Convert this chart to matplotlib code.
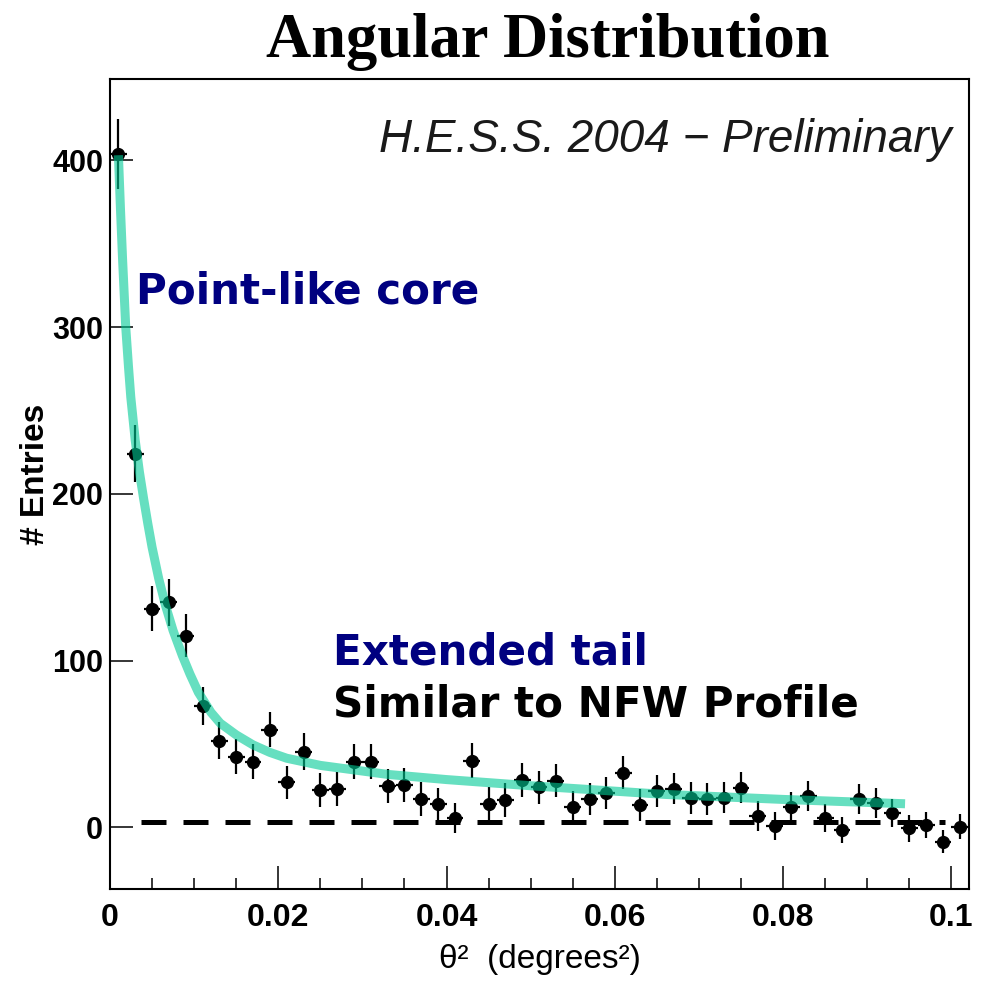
import matplotlib
matplotlib.use("Agg")
import matplotlib.pyplot as plt
from matplotlib.ticker import MultipleLocator

# ---------------- data ----------------
theta2 = [0.001, 0.003, 0.005, 0.007, 0.009, 0.011, 0.013, 0.015, 0.017, 0.019,
          0.021, 0.023, 0.025, 0.027, 0.029, 0.031, 0.033, 0.035, 0.037, 0.039,
          0.041, 0.043, 0.045, 0.047, 0.049, 0.051, 0.053, 0.055, 0.057, 0.059,
          0.061, 0.063, 0.065, 0.067, 0.069, 0.071, 0.073, 0.075, 0.077, 0.079,
          0.081, 0.083, 0.085, 0.087, 0.089, 0.091, 0.093, 0.095, 0.097, 0.099,
          0.101]
entries = [404, 224, 131, 135, 115, 73, 52, 42.5, 39.5, 58.5,
           27, 45.5, 22.5, 23, 39.5, 39.5, 24.9, 25.5, 17.1, 13.9,
           5.9, 40, 14.1, 16.5, 28.5, 24.1, 28, 12.5, 17.1, 20.5,
           32.9, 13.5, 22, 23.3, 17.5, 16.9, 17.9, 23.9, 7.1, 0.9,
           12.5, 18.9, 5.5, -1.5, 16.9, 14.5, 8.5, -0.5, 1.5, -8.5,
           0.5]
entries_err = [21, 17, 13.5, 14, 13, 11.5, 11, 10.5, 10.5, 10.5,
               10, 11, 10, 10, 10.5, 10.5, 10, 10, 10, 10,
               9, 10.5, 10, 10, 10, 10, 10, 9.5, 9.5, 9.5,
               10, 9.5, 9.5, 9.5, 9.5, 9.5, 9.5, 9.5, 9, 8.5,
               9, 9, 8.5, 8, 9, 9, 8.5, 8, 8, 7,
               7.5]
bin_half_width = 0.001

fit_x = [0.001, 0.00125, 0.0015, 0.00187, 0.0022, 0.00247, 0.0030, 0.0035,
         0.0040, 0.0045, 0.0050, 0.0058, 0.0066, 0.0075, 0.0086, 0.0095,
         0.0105, 0.0120, 0.0131, 0.015, 0.017, 0.019, 0.021, 0.025, 0.029,
         0.033, 0.040, 0.050, 0.066, 0.080, 0.0945]
fit_y = [403, 370, 340, 300, 276, 258, 232, 213,
         197, 182, 168, 149, 133, 118, 103, 92,
         81, 69, 62.5, 55.5, 49.5, 45, 41.5, 37.2, 34.5,
         31.8, 28.7, 25, 19.8, 16.8, 14.2]

bkg_level = 3.5
bkg_range = [0.0037, 0.0993]

x_ticks = [0, 0.02, 0.04, 0.06, 0.08, 0.1]
x_ticklabels = ["0", "0.02", "0.04", "0.06", "0.08", "0.1"]
y_ticks = [0, 100, 200, 300, 400]

# ---------------- figure ----------------
fig = plt.figure(figsize=(9.89, 9.81), dpi=100)
ax = fig.add_axes([110 / 989, 92 / 981, 859 / 989, 810 / 981])

ax.plot(bkg_range, [bkg_level, bkg_level], color="black", lw=3.6,
        dashes=[5, 3.4], zorder=2, solid_capstyle="butt", dash_capstyle="butt")

ax.errorbar(theta2, entries, yerr=entries_err, xerr=bin_half_width,
            fmt="o", color="black", ms=8.5, elinewidth=1.6, capsize=0, zorder=3)

ax.plot(fit_x, fit_y, color="#00CB96", alpha=0.6, lw=6.5, zorder=4,
        solid_capstyle="butt", solid_joinstyle="round")

ax.set_xlim(0, 0.1021)
ax.set_ylim(-36.9, 448.7)

ax.set_xticks(x_ticks)
ax.set_xticklabels(x_ticklabels)
ax.xaxis.set_minor_locator(MultipleLocator(0.005))
ax.set_yticks(y_ticks)

ax.tick_params(axis="x", which="major", direction="in", length=16.5, width=1.1,
               pad=10, top=False, labelsize=23)
ax.tick_params(axis="x", which="minor", direction="in", length=8, width=1.1, top=False)
ax.tick_params(axis="y", which="major", direction="in", length=16.5, width=1.1,
               pad=5, right=False, labelsize=22)
for lab in ax.get_xticklabels() + ax.get_yticklabels():
    lab.set_fontfamily("Liberation Sans")
    lab.set_fontweight("bold")
for sp in ax.spines.values():
    sp.set_linewidth(1.5)

ax.set_xlabel("θ²  (degrees²)", fontsize=24, family="Liberation Sans", labelpad=8)
ax.set_ylabel("# Entries", fontsize=24, family="Liberation Sans", fontweight="bold")
ax.yaxis.label.set_va("center")
ax.yaxis.set_label_coords(-0.0873, 0.512)

ax.text(0.10005, 405, "H.E.S.S. 2004 − Preliminary", ha="right", va="baseline",
        fontsize=33, style="italic", family="Liberation Sans", color="#1a1a1a")
ax.text(0.00306, 314.4, "Point-like core", ha="left", va="baseline",
        fontsize=30.3, fontweight="bold", family="DejaVu Sans", color="#000080")
ax.text(0.02654, 97.4, "Extended tail", ha="left", va="baseline",
        fontsize=30.3, fontweight="bold", family="DejaVu Sans", color="#000080")
ax.text(0.02654, 66.8, "Similar to NFW Profile", ha="left", va="baseline",
        fontsize=30.3, fontweight="bold", family="DejaVu Sans", color="black")

fig.text(548 / 989, 1 - 57 / 981, "Angular Distribution", ha="center", va="baseline",
         fontsize=45, fontweight="bold", family="Liberation Serif")

fig.savefig("out.png", dpi=100)
